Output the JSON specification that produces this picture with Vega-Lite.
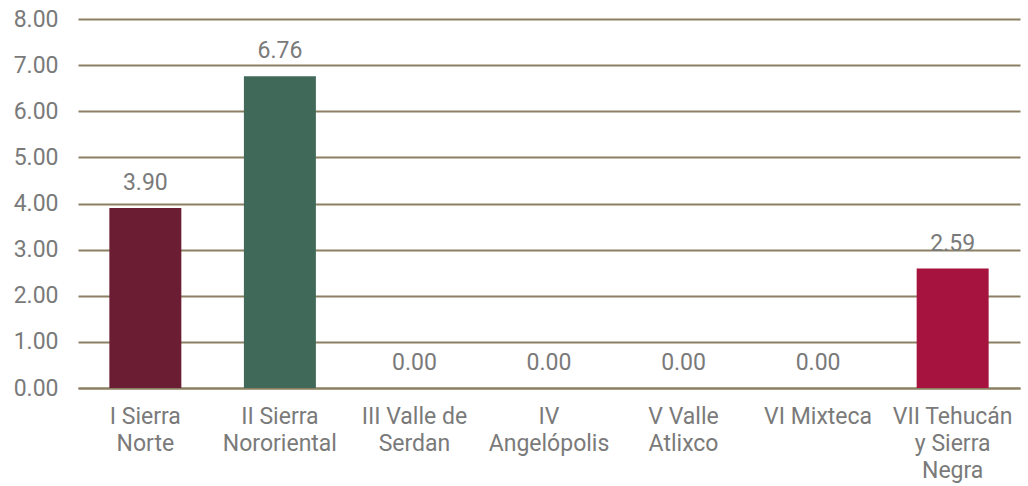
{
  "$schema": "https://vega.github.io/schema/vega-lite/v6.json",
  "width": 1028,
  "height": 486,
  "autosize": {"type": "fit", "contains": "padding"},
  "padding": {"left": 13, "top": 8, "right": 8, "bottom": 4},
  "background": "white",
  "config": {
    "view": {"stroke": null},
    "font": "Roboto",
    "axis": {"labelFont": "Roboto", "labelColor": "#7a7a7a", "labelFontSize": 23}
  },
  "data": {
    "values": [
      {"region": "I Sierra Norte", "value": 3.90},
      {"region": "II Sierra Nororiental", "value": 6.76},
      {"region": "III Valle de Serdan", "value": 0.00},
      {"region": "IV Angelópolis", "value": 0.00},
      {"region": "V Valle Atlixco", "value": 0.00},
      {"region": "VI Mixteca", "value": 0.00},
      {"region": "VII Tehucán y Sierra Negra", "value": 2.59}
    ]
  },
  "encoding": {
    "x": {
      "field": "region",
      "type": "nominal",
      "sort": null,
      "scale": {"paddingInner": 0.465, "paddingOuter": 0.233},
      "axis": {
        "title": null,
        "labelAngle": 0,
        "ticks": false,
        "domain": true,
        "domainColor": "#8b8063",
        "domainWidth": 2,
        "labelPadding": 17,
        "labelLineHeight": 27,
        "labelBaseline": "top",
        "labelExpr": "datum.label == 'I Sierra Norte' ? ['I Sierra', 'Norte'] : datum.label == 'II Sierra Nororiental' ? ['II Sierra', 'Nororiental'] : datum.label == 'III Valle de Serdan' ? ['III Valle de', 'Serdan'] : datum.label == 'IV Angelópolis' ? ['IV', 'Angelópolis'] : datum.label == 'V Valle Atlixco' ? ['V Valle', 'Atlixco'] : datum.label == 'VII Tehucán y Sierra Negra' ? ['VII Tehucán', 'y Sierra', 'Negra'] : datum.label"
      }
    },
    "y": {
      "field": "value",
      "type": "quantitative",
      "scale": {"domain": [0, 8], "nice": false},
      "axis": {
        "title": null,
        "values": [0, 1, 2, 3, 4, 5, 6, 7, 8],
        "labelOverlap": false,
        "format": ".2f",
        "ticks": false,
        "domain": false,
        "labelPadding": 20,
        "grid": true,
        "gridColor": "#8b8063",
        "gridWidth": 2,
        "gridOpacity": 1
      }
    }
  },
  "layer": [
    {
      "mark": {"type": "bar"},
      "encoding": {
        "color": {
          "field": "region",
          "type": "nominal",
          "legend": null,
          "scale": {
            "domain": ["I Sierra Norte", "II Sierra Nororiental", "III Valle de Serdan", "IV Angelópolis", "V Valle Atlixco", "VI Mixteca", "VII Tehucán y Sierra Negra"],
            "range": ["#6b1d33", "#41695a", "#888888", "#888888", "#888888", "#888888", "#a6133f"]
          }
        }
      }
    },
    {
      "mark": {"type": "text", "baseline": "bottom", "dy": -13, "fontSize": 23, "color": "#7a7a7a", "font": "Roboto"},
      "encoding": {
        "text": {"field": "value", "type": "quantitative", "format": ".2f"}
      }
    }
  ]
}
